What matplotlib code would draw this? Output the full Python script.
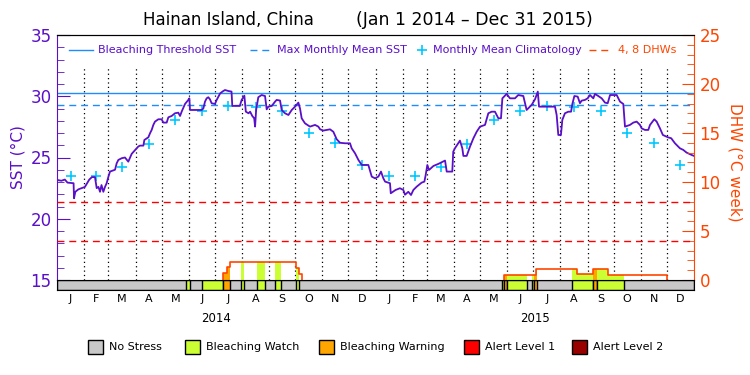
#!/usr/bin/env python3

import numpy as np
import matplotlib
matplotlib.use('Agg')
import matplotlib.pyplot as plt
from matplotlib.patches import Rectangle
from matplotlib.lines import Line2D

# day 0 = Jan 1 2014
sst_days = [0, 5, 9, 12, 19, 19.5, 21, 24.5, 32, 37, 40, 43.5, 45.5, 47.5, 49.3, 51, 53.1, 55, 56.9, 58.8,
            60.7, 64.5, 66.5, 68.4, 70.3, 74.1, 77.9, 81.7, 83.7, 85.6, 89.4, 93.2, 95.1, 99.0, 100.1, 104.7,
            106.6, 108.5, 110.4, 112.3, 116.1, 119.9, 121.9, 125.7, 127.6, 131.4, 135.2, 139.0, 141.0, 142.9,
            146.7, 150.5, 151.7, 152.4, 165.8, 167.7, 169.6, 171.5, 173.4, 175.3, 177.2, 181.0, 183.0, 187.0,
            190.0, 192.5, 196.3, 200.0, 200.9, 209.5, 211.6, 214.7, 216.4, 219.5, 221.3, 223.8, 226.0, 227.0,
            228.2, 230.7, 234.5, 238.4, 240.3, 242.2, 246.1, 249.9, 251.7, 255.6, 257.5, 261.3, 265.2, 269.0,
            272.8, 276.6, 278.5, 280.4, 284.2, 289.9, 295.7, 299.5, 301.5, 305.3, 309.1, 312.9, 316.7, 320.5,
            324.4, 330.1, 335.8, 337.7, 341.5, 345.4, 349.2, 356.8, 360.7, 364.5, 368.3, 371.3, 374.0, 376.0,
            381.6, 382.5, 388.0, 393.0, 396.9, 398.8, 402.6, 405.7, 408.4, 412.2, 417.9, 421.0, 422.5, 424.4,
            426.3, 431.4, 437.1, 444.7, 446.6, 453.0, 454.1, 456.0, 461.8, 464.5, 465.7, 469.5, 473.3, 477.2,
            481.0, 484.8, 490.5, 494.3, 498.1, 501.9, 505.8, 508.8, 510.4, 515.3, 519.1, 524.8, 528.6, 534.4,
            538.2, 543.9, 547.8, 551.0, 552.4, 570.7, 572.6, 574.5, 577.5, 579.1, 582.1, 586.0, 589.1, 590.6,
            592.9, 596.7, 599.3, 601.2, 605.0, 608.1, 610.8, 614.6, 616.5, 620.3, 624.2, 628.0, 631.1, 633.8,
            641.4, 645.2, 649.0, 650.9, 656.6, 660.5, 664.3, 668.1, 670.0, 673.8, 677.6, 679.6, 684.5, 687.2,
            691.0, 694.3, 700.1, 703.9, 708.2, 713.9, 717.7, 721.5, 727.2, 730.0]
sst_vals = [23.17, 23.10, 23.20, 22.95, 22.90, 21.67, 22.20, 22.40, 22.60, 23.20, 23.40, 23.40, 22.50, 22.60,
            22.20, 22.75, 22.20, 22.60, 22.90, 23.40, 23.85, 23.95, 24.00, 24.53, 24.80, 24.94, 25.00, 24.66,
            25.00, 25.30, 25.60, 25.90, 25.97, 25.97, 26.43, 26.65, 26.98, 27.25, 27.66, 27.93, 28.12, 28.12,
            27.85, 27.85, 28.28, 28.39, 28.61, 28.66, 28.39, 28.75, 29.37, 29.70, 29.83, 28.88, 28.88, 29.00,
            29.56, 29.83, 29.92, 29.75, 29.43, 29.37, 29.70, 30.24, 30.40, 30.51, 30.43, 30.38, 29.21, 29.21,
            29.70, 30.05, 28.74, 28.61, 28.74, 28.39, 28.20, 27.52, 28.88, 29.92, 30.10, 30.02, 28.93, 29.15,
            29.21, 29.56, 29.70, 29.65, 28.88, 28.61, 28.47, 28.88, 29.15, 29.48, 29.00, 28.20, 27.79, 27.52,
            27.66, 27.52, 27.30, 27.20, 27.25, 27.30, 27.10, 26.49, 26.20, 26.16, 26.16, 25.75, 25.35, 24.80,
            24.39, 24.39, 23.44, 23.30, 23.44, 23.85, 23.30, 23.03, 22.90, 22.08, 22.35, 22.49, 22.35, 21.96,
            22.20, 21.94, 22.35, 22.62, 22.95, 23.03, 23.57, 24.39, 23.98, 24.31, 24.48, 24.75, 23.85, 23.85,
            25.48, 25.75, 26.38, 25.75, 25.13, 25.13, 25.89, 26.57, 27.11, 27.52, 27.66, 28.61, 28.74, 28.74,
            28.20, 28.20, 29.83, 30.19, 29.83, 29.83, 30.10, 30.02, 28.88, 29.29, 29.75, 30.38, 29.15, 29.15,
            28.47, 26.84, 26.84, 28.07, 28.61, 28.74, 28.74, 29.37, 30.02, 29.97, 29.43, 29.64, 29.70, 29.83,
            30.10, 29.83, 30.19, 30.02, 29.83, 29.48, 29.43, 30.10, 30.10, 29.56, 29.37, 27.52, 27.66, 27.85,
            27.93, 27.66, 27.38, 27.25, 27.25, 27.66, 28.12, 27.93, 27.38, 26.84, 26.65, 26.57, 26.16, 25.75,
            25.62, 25.40, 25.21, 25.13]

clim_vals = [23.5, 23.45, 24.25, 26.08, 28.06, 28.83, 29.24, 29.1, 28.83, 27.03, 26.16, 24.39]
mmm = 29.3
threshold = 30.3
dhw_levels = [4, 8]

dhw_days = [0, 190.0, 194.4, 198.0, 273.7, 277.7, 281.2, 512.6, 548.6, 596.3, 613.9, 631.8, 698.7, 730]
dhw_vals = [0, 0.68, 1.3, 1.8, 1.19, 0.62, 0, 0.47, 1.09, 0.58, 1.09, 0.47, 0, 0]

# (start day, end day, stress level) -- everything else is "No Stress"
stress_runs = [(147.8, 152.4, 1), (166.5, 190.0, 1), (190.0, 198.6, 2), (210.5, 214.6, 1),
               (229.5, 238.4, 1), (249.8, 256.7, 1), (273.5, 277.7, 1),
               (509.6, 512.6, 1), (512.6, 515.3, 2), (515.3, 538.2, 1), (544.7, 546.6, 1),
               (546.6, 550.5, 2), (589.8, 614.6, 1), (614.6, 618.4, 2), (618.4, 650.1, 1)]
stress_names = ['No Stress', 'Bleaching Watch', 'Bleaching Warning', 'Alert Level 1', 'Alert Level 2']
stress_colors = ['#c8c8c8', '#ccff33', '#ffa500', '#ff0000', '#990000']

month_letters = list('JFMAMJJASOND') * 2
years = ['2014', '2015']

purple = '#5a0fc8'
blue = '#1e8cff'
cyan = '#00c8ff'
dhw_col = '#ff4500'

W, H = 750, 375
X0, X1, Y0, Y1 = 57, 694, 35, 280   # plot box in pixels


def fig_xy(px, py):
    return px / W, 1 - py / H


# month starts / middles in days
months = np.arange('2014-01', '2016-02', dtype='datetime64[M]')
month_start = (months.astype('datetime64[D]') - np.datetime64('2014-01-01')).astype(int)
month_mid = (month_start[:-1] + month_start[1:]) / 2


def dhw_at(x):
    idx = np.searchsorted(dhw_days, x, side='right') - 1
    return np.array(dhw_vals)[np.clip(idx, 0, len(dhw_vals) - 1)]


fig = plt.figure(figsize=(W / 100, H / 100), dpi=100)
plt.rcParams['font.family'] = ['DejaVu Sans']

ax = fig.add_axes([X0 / W, 1 - Y1 / H, (X1 - X0) / W, (Y1 - Y0) / H])
ax.set_xlim(0, 730)
ax.set_ylim(15, 35)
ax2 = ax.twinx()
ax2.set_ylim(0, 25)

# month dividers
ax.vlines(month_start[1:-1], 15, 32.5, colors='k', linestyles=(0, (1, 2.5)), lw=0.9, zorder=1)

ax.axhline(threshold, color=blue, lw=1, zorder=2)
ax.axhline(mmm, color=blue, lw=1, ls=(0, (5, 3.5)), zorder=2)
ax.plot(month_mid, np.tile(clim_vals, 2), ls='none', marker='+', ms=7, mew=1.2, color=cyan, zorder=3)
ax.plot(sst_days, sst_vals, color=purple, lw=1.3, zorder=4)

for lvl in dhw_levels:
    ax2.axhline(lvl, color='#ff0000', lw=1, ls=(0, (5, 3.5)))

# DHW fill coloured by stress level
for start, end, level in stress_runs:
    xs = [start] + [d for d in dhw_days if start < d < end] + [end]
    ys = dhw_at(xs)
    ax2.fill_between(xs, 0, ys, step='post', color=stress_colors[level], lw=0, zorder=1)

# DHW outline, one piece per episode
xs, ys = [], []
for i in range(1, len(dhw_days)):
    if dhw_vals[i] > 0 and dhw_vals[i - 1] == 0:
        xs, ys = [dhw_days[i]], [0]
    if dhw_vals[i] > 0 or dhw_vals[i - 1] > 0:
        xs += [dhw_days[i], dhw_days[i]]
        ys += [dhw_vals[i - 1], dhw_vals[i]]
    if dhw_vals[i] == 0 and dhw_vals[i - 1] > 0:
        ax2.plot(xs, ys, color=dhw_col, lw=1.2, zorder=2)

# axes styling
ax.set_yticks(range(15, 36, 5))
ax.set_yticks(range(15, 36), minor=True)
ax.tick_params(axis='y', which='both', direction='in', colors=purple, labelsize=12, pad=4)
ax.tick_params(axis='y', which='major', length=9)
ax.tick_params(axis='y', which='minor', length=5)
ax.tick_params(axis='x', bottom=False, labelbottom=False)
ax2.set_yticks(range(0, 26, 5))
ax2.set_yticks(range(0, 26), minor=True)
ax2.tick_params(axis='y', which='both', direction='in', colors=dhw_col, labelsize=12, pad=4)
ax2.tick_params(axis='y', which='major', length=9)
ax2.tick_params(axis='y', which='minor', length=5)
for a in (ax, ax2):
    a.spines['bottom'].set_visible(False)
ax.spines['left'].set_color(purple)
ax.spines['right'].set_visible(False)
ax2.spines['left'].set_visible(False)
ax2.spines['right'].set_color(dhw_col)

# in-plot legend
lx = lambda px: (px - X0) / (X1 - X0)
ly = (Y1 - 50) / (Y1 - Y0)
ax.add_line(Line2D([lx(69), lx(93)], [ly, ly], transform=ax.transAxes, color=blue, lw=1, clip_on=False))
ax.add_line(Line2D([lx(250), lx(271)], [ly, ly], transform=ax.transAxes, color=blue, lw=1,
                   ls=(0, (5, 3.5)), clip_on=False))
ax.add_line(Line2D([lx(422)], [ly], transform=ax.transAxes, color=cyan, marker='+', ms=7, mew=1.2,
                   ls='none', clip_on=False))
ax.add_line(Line2D([lx(589), lx(612)], [ly, ly], transform=ax.transAxes, color=dhw_col, lw=1,
                   ls=(0, (5, 3.5)), clip_on=False))
for px, label, col in [(98, 'Bleaching Threshold SST', purple), (277, 'Max Monthly Mean SST', purple),
                       (433, 'Monthly Mean Climatology', purple), (618, '4, 8 DHWs', dhw_col)]:
    ax.text(lx(px), ly, label, transform=ax.transAxes, color=col, fontsize=8, va='center', ha='left')

# stress bar
axb = fig.add_axes([X0 / W, 1 - 290 / H, (X1 - X0) / W, 10 / H])
axb.set_xlim(0, 730)
axb.set_ylim(0, 1)
axb.add_patch(Rectangle((0, 0), 730, 1, facecolor=stress_colors[0], edgecolor='k', lw=1))
for start, end, level in stress_runs:
    axb.add_patch(Rectangle((start, 0), end - start, 1, facecolor=stress_colors[level], edgecolor='k', lw=1))
axb.set_yticks([])
axb.set_xticks(month_mid)
axb.set_xticklabels(month_letters, fontsize=8)
axb.tick_params(axis='x', length=0, pad=3)
for i, yr in enumerate(years):
    axb.text(182.5 + 365 * i, -2.8, yr, transform=axb.get_xaxis_transform(), ha='center', va='center',
             fontsize=8.5)

# titles / labels
fig.text(*fig_xy(143, 20), 'Hainan Island, China', ha='left', va='center', fontsize=12)
fig.text(*fig_xy(356, 20), '(Jan 1 2014 \u2013 Dec 31 2015)', ha='left', va='center', fontsize=12.5)
fig.text(*fig_xy(18, 157), 'SST (\u00b0C)', rotation=90, ha='center', va='center', color=purple, fontsize=11)
fig.text(*fig_xy(735, 162), 'DHW (\u00b0C week)', rotation=270, ha='center', va='center', color=dhw_col,
         fontsize=11)

# stress legend
for px, name, col in zip([88, 185, 319, 464, 572], stress_names, stress_colors):
    fig.add_artist(Rectangle(fig_xy(px, 354), 15 / W, 14 / H, transform=fig.transFigure,
                             facecolor=col, edgecolor='k', lw=1))
    fig.text(*fig_xy(px + 21, 347), name, ha='left', va='center', fontsize=8)

fig.savefig('out.png', dpi=100)
